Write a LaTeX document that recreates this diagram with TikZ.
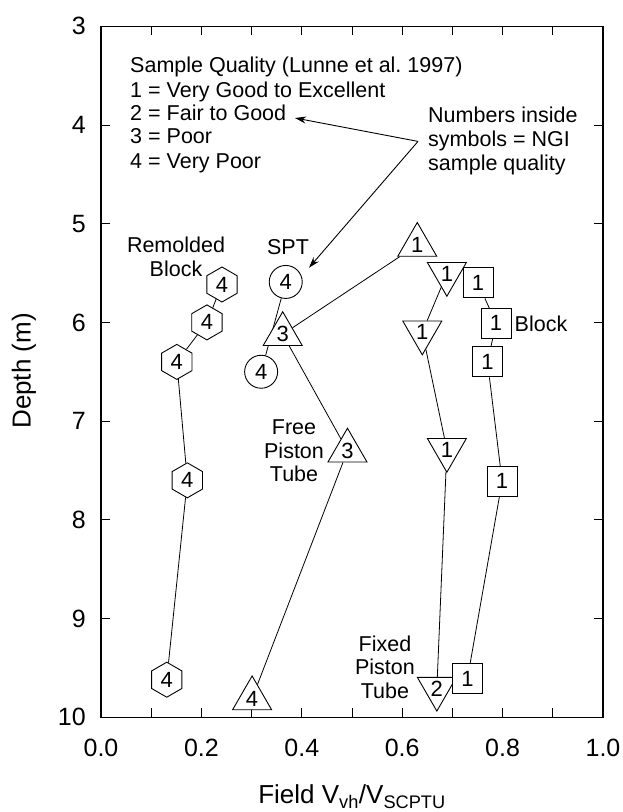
\documentclass[tikz,border=0pt]{standalone}
\usepackage{fontspec}
\setmainfont{Liberation Sans}
\usetikzlibrary{shapes.geometric}
\usetikzlibrary{arrows.meta}
\usetikzlibrary{backgrounds}

\begin{document}
\begin{tikzpicture}[x=502pt,y=-98.7pt,
    every node/.style={inner sep=0pt},
    note/.style={font=\fontsize{21.5}{23.5}\selectfont,align=center},
    ticklabel/.style={font=\fontsize{25}{25}\selectfont},
    axtitle/.style={font=\fontsize{26}{26}\selectfont},
    sym/.style={draw,fill=white,line width=0.9pt,font=\fontsize{22}{22}\selectfont},
    hexa/.style={sym,regular polygon,regular polygon sides=6,shape border rotate=30,minimum size=35pt},
    uptri/.style={sym,regular polygon,regular polygon sides=3,minimum size=45pt},
    dntri/.style={uptri,shape border rotate=180},
    spt/.style={sym,circle,minimum size=33pt},
    blk/.style={sym,rectangle,minimum size=30pt},
    link/.style={line width=0.8pt},
    pointer/.style={line width=0.9pt,-{Stealth[length=11pt,width=7pt]}}]
  \useasboundingbox (-0.2012,2.7335) rectangle (1.0398,10.9605);

  % frame and ticks
  \draw[line width=1.1pt] (0,3) rectangle (1,10);
  \foreach \d in {4,...,9} {
    \draw[line width=0.9pt] (0,\d) -- ++(9pt,0pt);
    \draw[line width=0.9pt] (1,\d) -- ++(-9pt,0pt);
  }
  \foreach \v in {0.1,0.2,...,0.9} {
    \draw[line width=0.9pt] (\v,3) -- ++(0pt,-9pt);
    \draw[line width=0.9pt] (\v,10) -- ++(0pt,9pt);
  }
  \foreach \d in {3,...,10}
    \node[ticklabel,anchor=east,xshift=-15pt] (yl\d) at (0,\d) {\d};
  \foreach \t [count=\i] in {0.0,0.2,0.4,0.6,0.8,1.0}
    \node[ticklabel,yshift=-31pt] (xl\i) at ({(\i-1)/5},10) {\t};
  \node[axtitle,rotate=90] (ylab) at (-0.1534,6.492) {Depth (m)};
  \node[axtitle,anchor=base] (xlab) at (0.5,10.879)
    {Field V\textsubscript{vh}/V\textsubscript{SCPTU}};

  % sample quality legend
  \node[note,anchor=base west] (qhead) at (0.0578,3.470) {Sample Quality (Lunne et al.\ 1997)};
  \node[note,anchor=base west] (q1) at (0.0578,3.719) {1 = Very Good to Excellent};
  \node[note,anchor=base west] (q2) at (0.0578,3.956) {2 = Fair to Good};
  \node[note,anchor=base west] (q3) at (0.0578,4.192) {3 = Poor};
  \node[note,anchor=base west] (q4) at (0.0578,4.439) {4 = Very Poor};
  \node[note,anchor=base west] (ngi1) at (0.6514,3.977) {Numbers inside};
  \node[note,anchor=base west] (ngi2) at (0.6514,4.220) {symbols = NGI};
  \node[note,anchor=base west] (ngi3) at (0.6514,4.463) {sample quality};
  \coordinate (fork) at (0.6315,4.166);
  \coordinate (forkA) at (0.3865,3.929);
  \coordinate (forkB) at (0.4143,5.446);
  \draw[pointer] (fork) -- (forkA);
  \draw[pointer] (fork) -- (forkB);

  % series labels
  \node[note] (rblab) at (0.1494,5.337) {Remolded\\Block};
  \node[note] (sptlab) at (0.3725,5.236) {SPT};
  \node[note] (fplab) at (0.3845,7.303) {Free\\Piston\\Tube};
  \node[note] (xplab) at (0.5657,9.491) {Fixed\\Piston\\Tube};
  \node[note] (bklab) at (0.8765,6.016) {Block};

  % remolded block
  \node[hexa] (rb1) at (0.241,5.616) {4};
  \node[hexa] (rb2) at (0.211,6.00) {4};
  \node[hexa] (rb3) at (0.151,6.40) {4};
  \node[hexa] (rb4) at (0.172,7.60) {4};
  \node[hexa] (rb5) at (0.131,9.62) {4};
  % spt
  \node[spt] (spt1) at (0.368,5.59) {4};
  \node[spt] (spt2) at (0.319,6.50) {4};
  % free piston tube
  \node[uptri] (fp1) at (0.630,5.216) {1};
  \node[uptri] (fp2) at (0.362,6.12) {3};
  \node[uptri] (fp3) at (0.491,7.30) {3};
  \node[uptri] (fp4) at (0.301,9.81) {4};
  % fixed piston tube
  \node[dntri] (xp1) at (0.689,5.507) {1};
  \node[dntri] (xp2) at (0.640,6.10) {1};
  \node[dntri] (xp3) at (0.689,7.29) {1};
  \node[dntri] (xp4) at (0.669,9.71) {2};
  % block
  \node[blk] (bk1) at (0.751,5.60) {1};
  \node[blk] (bk2) at (0.787,6.01) {1};
  \node[blk] (bk3) at (0.770,6.40) {1};
  \node[blk] (bk4) at (0.799,7.61) {1};
  \node[blk] (bk5) at (0.730,9.61) {1};

  \begin{scope}[on background layer]
    \draw[link] (rb1) -- (rb2) -- (rb3) -- (rb4) -- (rb5);
    \draw[link] (spt1) -- (spt2);
    \draw[link] (fp1) -- (fp2) -- (fp3) -- (fp4);
    \draw[link] (xp1) -- (xp2) -- (xp3) -- (xp4);
    \draw[link] (bk1) -- (bk2) -- (bk3) -- (bk4) -- (bk5);
  \end{scope}
\end{tikzpicture}
\end{document}
